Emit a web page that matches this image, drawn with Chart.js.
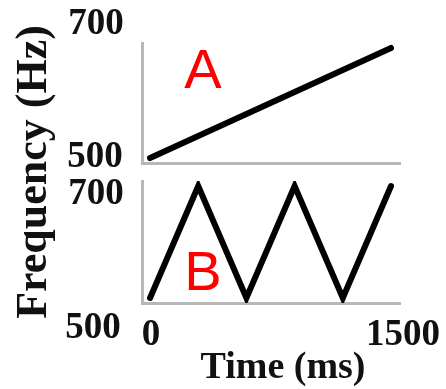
<!DOCTYPE html>
<html>
<head>
<meta charset="utf-8">
<script src="https://cdn.jsdelivr.net/npm/chart.js@4"></script>
<style>
  html, body { margin: 0; padding: 0; background: #fff; }
  #wrap { position: relative; width: 446px; height: 389px; }
  #wrap canvas { position: absolute; left: 0; top: 0; }
</style>
</head>
<body>
<div id="wrap">
  <canvas id="chartA" width="446" height="389"></canvas>
  <canvas id="chartB" width="446" height="389"></canvas>
</div>
<script>
// -------------------- DATA --------------------
const timesA = [0, 1500];
const freqA = [500, 700];

const timesB = [0, 300, 600, 900, 1200, 1500];
const freqB = [500, 700, 500, 700, 500, 700];

const yTicks = [500, 700];
const xTicks = [0, 1500];

const xTitle = "Time (ms)";
const yTitle = "Frequency (Hz)";

// -------------------- HELPERS --------------------
const tickFont = "bold 37px 'Liberation Serif', 'DejaVu Serif', serif";
const xTitleFont = "bold 38px 'Liberation Serif', 'DejaVu Serif', serif";
const yTitleFont = "bold 44px 'Liberation Serif', 'DejaVu Serif', serif";
const letterFont = "56px 'Liberation Sans', Arial, sans-serif";

function toPoints(xs, ys) {
  return xs.map((x, i) => ({ x: x, y: ys[i] }));
}

function axisOpts(min, max) {
  return {
    type: "linear",
    min: min,
    max: max,
    ticks: { display: false },
    grid: { display: false, drawTicks: false },
    border: { display: true, color: "#b8b8b8", width: 3 }
  };
}

function drawText(ctx, text, x, y, font, color) {
  ctx.save();
  ctx.font = font;
  ctx.fillStyle = color;
  ctx.textAlign = "center";
  ctx.textBaseline = "alphabetic";
  ctx.fillText(text, x, y);
  ctx.restore();
}

// text for each panel, drawn after the chart
const panelText = {
  id: "panelText",
  afterDraw(chart, args, opts) {
    const ctx = chart.ctx;
    (opts.items || []).forEach((t) => {
      if (t.rotate) {
        ctx.save();
        ctx.translate(t.x, t.y);
        ctx.rotate(-Math.PI / 2);
        drawText(ctx, t.text, 0, 0, t.font, t.color);
        ctx.restore();
      } else {
        drawText(ctx, t.text, t.x, t.y, t.font, t.color);
      }
    });
  }
};

function makeChart(id, xs, ys, padding, items) {
  return new Chart(document.getElementById(id), {
    type: "line",
    data: {
      datasets: [{
        data: toPoints(xs, ys),
        borderColor: "#000",
        borderWidth: 6,
        pointRadius: 0,
        tension: 0,
        borderCapStyle: "round",
        borderJoinStyle: "miter",
        fill: false
      }]
    },
    options: {
      responsive: false,
      animation: false,
      devicePixelRatio: 1,
      layout: { padding: padding },
      plugins: {
        legend: { display: false },
        tooltip: { enabled: false },
        panelText: { items: items }
      },
      scales: {
        x: axisOpts(-50, 1556),
        y: axisOpts(491, 709)
      }
    },
    plugins: [panelText]
  });
}

// -------------------- CHARTS --------------------
window.addEventListener("load", () => {
  makeChart("chartA", timesA, freqA,
    { left: 142, top: 43, right: 46, bottom: 226 },
    [
      { text: String(yTicks[1]), x: 96, y: 34, font: tickFont, color: "#111" },
      { text: String(yTicks[0]), x: 95, y: 167, font: tickFont, color: "#111" },
      { text: "A", x: 203, y: 88, font: letterFont, color: "#ff0000" }
    ]);

  makeChart("chartB", timesB, freqB,
    { left: 142, top: 181, right: 46, bottom: 86 },
    [
      { text: String(yTicks[1]), x: 96, y: 204, font: tickFont, color: "#111" },
      { text: String(yTicks[0]), x: 93, y: 338, font: tickFont, color: "#111" },
      { text: String(xTicks[0]), x: 151, y: 345, font: tickFont, color: "#111" },
      { text: String(xTicks[1]), x: 403, y: 345, font: tickFont, color: "#111" },
      { text: xTitle, x: 283, y: 378, font: xTitleFont, color: "#111" },
      { text: yTitle, x: 46, y: 172, font: yTitleFont, color: "#111", rotate: true },
      { text: "B", x: 203, y: 290, font: letterFont, color: "#ff0000" }
    ]);
});
</script>
</body>
</html>
